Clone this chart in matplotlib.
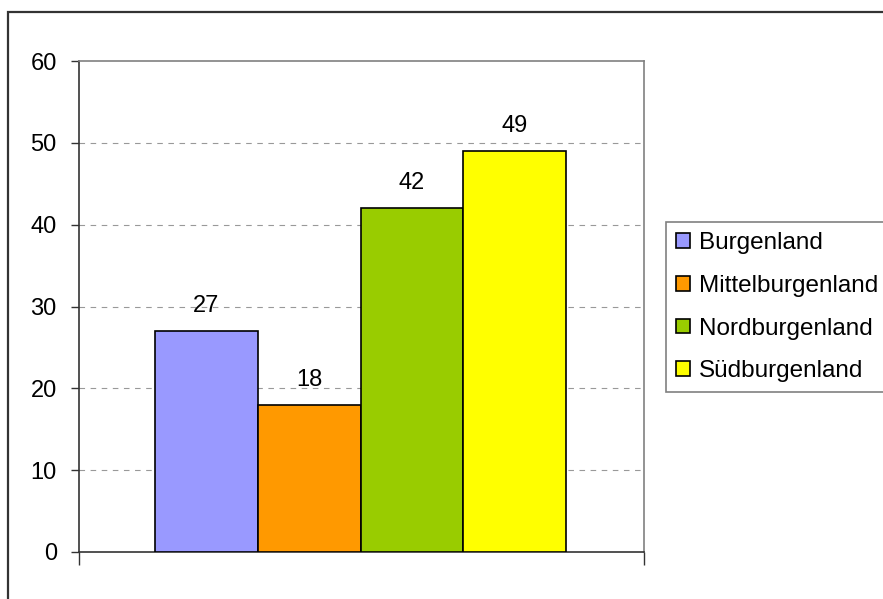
import matplotlib
matplotlib.use("Agg")
import matplotlib.pyplot as plt
from matplotlib.patches import Rectangle, Patch

plt.rcParams['font.family'] = ['Liberation Sans', 'DejaVu Sans']

categories = ["Burgenland", "Mittelburgenland", "Nordburgenland", "Südburgenland"]
values = [27, 18, 42, 49]
colors = ["#9999FF", "#FF9900", "#99CC00", "#FFFF00"]
yticks = [0, 10, 20, 30, 40, 50, 60]

FS = 17
W, H = 883, 599
fig = plt.figure(figsize=(W / 100, H / 100), dpi=100)
ax = fig.add_axes([79 / W, 47 / H, 565 / W, 491 / H])

xs = list(range(len(values)))
ax.bar(xs, values, width=1.0, color=colors, edgecolor="black", linewidth=1.2, zorder=3)
for x, v in zip(xs, values):
    ax.annotate(str(v), (x, v), xytext=(0, 10), textcoords="offset points",
                ha="center", va="bottom", fontsize=FS)

ax.set_ylim(0, 60)
ax.set_xlim(-1.238, 4.257)
ax.set_yticks(yticks)
ax.set_yticklabels([str(t) for t in yticks], fontsize=FS)
for t in yticks[1:-1]:
    ax.axhline(t, color="#999999", linestyle=(0, (5, 5)), linewidth=0.8, zorder=1)

ax.set_xticks(ax.get_xlim())
ax.set_xticklabels(["", ""])
ax.tick_params(axis="x", direction="out", length=9, width=1, color="#333333")
ax.tick_params(axis="y", direction="out", length=6, width=1, color="#333333", pad=10)

ax.spines["left"].set_color("#333333")
ax.spines["bottom"].set_color("#333333")
ax.spines["top"].set_color("#808080")
ax.spines["right"].set_color("#808080")
for s in ax.spines.values():
    s.set_linewidth(1.2)

handles = [Patch(facecolor=c, edgecolor="black", linewidth=1.2) for c in colors]
leg = fig.legend(handles, categories, loc="upper left",
                 bbox_to_anchor=(666 / W, 1 - 222 / H), bbox_transform=fig.transFigure,
                 fontsize=17.5, frameon=True, fancybox=False, framealpha=1,
                 edgecolor="#808080", handlelength=0.55, handleheight=0.55,
                 handletextpad=0.38, labelspacing=0.85, borderpad=0.42, borderaxespad=0)
leg.get_frame().set_linewidth(1.2)

fig.patches.append(Rectangle((8 / W, -0.1), 1.2, 1 - 12 / H + 0.1,
                             transform=fig.transFigure, fill=False,
                             edgecolor="#333333", linewidth=1.6))

fig.savefig("out.png", dpi=100)
